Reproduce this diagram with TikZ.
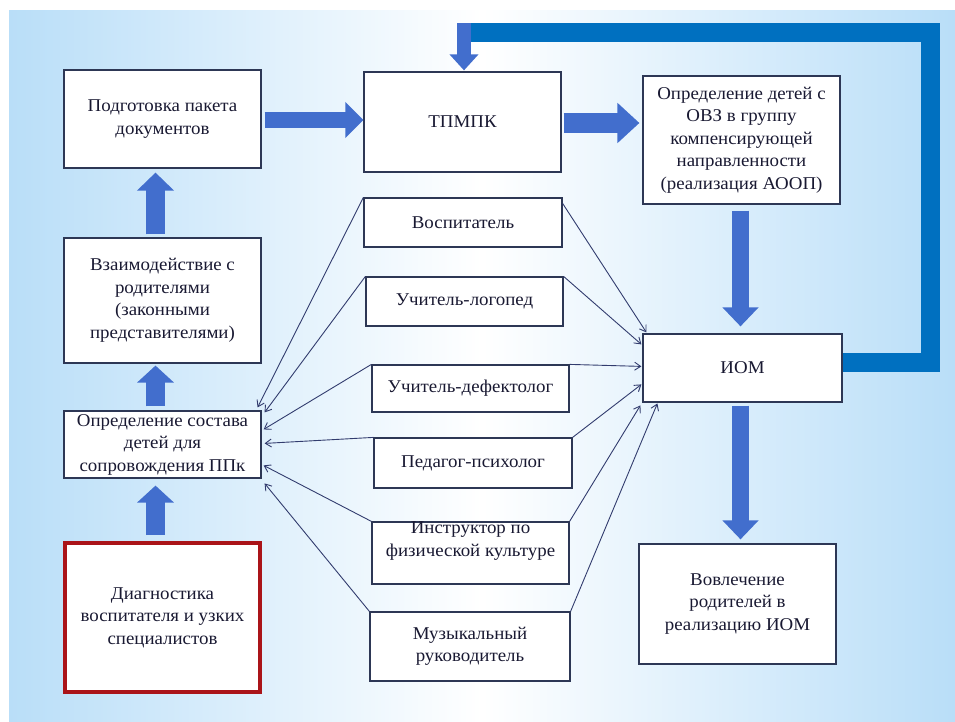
\documentclass[tikz,border=0pt]{standalone}
\usepackage{fontspec}
\setmainfont{Liberation Serif}[FakeStretch=1.05]
\usetikzlibrary{arrows.meta,calc}
\definecolor{bgblue}{RGB}{185,222,248}
\definecolor{boxline}{RGB}{45,55,85}
\definecolor{txt}{RGB}{25,25,50}
\definecolor{arrowblue}{RGB}{66,110,205}
\definecolor{loopblue}{RGB}{0,112,192}
\definecolor{thinline}{RGB}{50,60,110}
\definecolor{diagred}{RGB}{170,20,25}
\begin{document}
\begin{tikzpicture}[x=1pt,y=-1pt,
  box/.style={draw=boxline, line width=1.2pt, fill=white, inner sep=0pt, align=center,
    font=\fontsize{18}{22.5}\selectfont, text=txt},
  plaintext/.style={inner sep=0pt, align=center, font=\fontsize{18}{22.5}\selectfont, text=txt},
  bigarrow/.style={draw=arrowblue, line width=17pt, -{Triangle[length=18pt,width=35pt]}},
  loopline/.style={draw=loopblue, line width=19pt, line join=miter},
  thinarrow/.style={draw=thinline, line width=0.9pt, -{Straight Barb[length=6pt,width=8pt]}}
]
\useasboundingbox (0,0) rectangle (955,722);
\fill[white] (0,0) rectangle (955,722);
\shade[left color=bgblue, right color=bgblue, middle color=white] (9,11) rectangle (955,722);

% boxes
\node[box, minimum width=197, minimum height=98] (podg) at (162.5,119) {Подготовка пакета\\документов};
\node[box, minimum width=197, minimum height=100] (tpmpk) at (462.5,122) {ТПМПК};
\node[box, minimum width=197, minimum height=128] (ovz) at (741.5,140) {Определение детей с\\ОВЗ в группу\\компенсирующей\\направленности\\(реализация АООП)};
\node[box, minimum width=198, minimum height=49] (vosp) at (463,222.5) {Воспитатель};
\node[box, minimum width=197, minimum height=49] (log) at (464.5,301.5) {Учитель-логопед};
\node[box, minimum width=197, minimum height=125] (vzaim) at (162.5,300.5) {Взаимодействие с\\родителями\\(законными\\представителями)};
\node[box, minimum width=197, minimum height=67] (sost) at (162.5,444.5) {Определение состава\\детей для\\сопровождения ППк};
\node[box, draw=diagred, line width=4pt, minimum width=195, minimum height=149] (diag) at (162.5,617.5) {Диагностика\\воспитателя и узких\\специалистов};
\node[box, minimum width=197, minimum height=47] (def) at (470.5,388.5) {Учитель-дефектолог};
\node[box, minimum width=198, minimum height=50] (psych) at (473,463) {Педагог-психолог};
\node[box, minimum width=197, minimum height=62] (instr) at (470.5,553) {};
\node[plaintext] (instrtxt) at (470.5,541) {Инструктор по\\физической культуре};
\node[box, minimum width=200, minimum height=69] (muz) at (470,646.5) {Музыкальный\\руководитель};
\node[box, minimum width=199, minimum height=68] (iom) at (742.5,368) {ИОМ};
\node[box, minimum width=197, minimum height=120] (vovl) at (737.5,604) {Вовлечение\\родителей в\\реализацию ИОМ};

% feedback loop
\coordinate (lr) at (930,362.5);
\coordinate (lt) at (930,33);
\coordinate (ll) at (471,33);
\draw[loopline] ($(iom.east)+(0,-5.5)$) -- (lr) -- (lt) -- (ll);
\draw[bigarrow, line width=14pt, -{Triangle[length=16pt,width=28pt]}] (464,23.5) -- ($(tpmpk.north)+(1.5,-1)$);

% block arrows
\draw[bigarrow, line width=16pt] ($(podg.east)+(3,1)$) -- ($(podg.east -| tpmpk.west)+(0,1)$);
\draw[bigarrow, line width=20pt, -{Triangle[length=22pt,width=39pt]}] ($(tpmpk.east)+(2,1)$) -- ($(tpmpk.east -| ovz.west)+(-3,1)$);
\draw[bigarrow, -{Triangle[length=19pt,width=35pt]}] ($(ovz.south)+(-1,6)$) -- ($(ovz.south |- iom.north)+(-1,-7)$);
\draw[bigarrow, -{Triangle[length=19pt,width=35pt]}] ($(iom.south)+(-2,3)$) -- ($(iom.south |- vovl.north)+(-2,-4)$);
\draw[bigarrow, line width=19pt, -{Triangle[length=18pt,width=36pt]}] ($(vzaim.north)+(-7,-3)$) -- ($(vzaim.north |- podg.south)+(-7,4)$);
\draw[bigarrow, line width=19pt, -{Triangle[length=17pt,width=36pt]}] ($(sost.north)+(-7,-4)$) -- ($(sost.north |- vzaim.south)+(-7,2)$);
\draw[bigarrow, line width=19pt, -{Triangle[length=17pt,width=36pt]}] ($(diag.north)+(-7,-6)$) -- ($(diag.north |- sost.south)+(-7,7)$);

% thin arrows to sost
\draw[thinarrow] (vosp.north west) -- ($(sost.north east)+(-4,-3)$);
\draw[thinarrow] (log.north west) -- ($(sost.north east)+(3,2)$);
\draw[thinarrow] (def.north west) -- ($(sost.north east)+(2,19)$);
\draw[thinarrow] (psych.north west) -- ($(sost.north east)+(3,33)$);
\draw[thinarrow] (instr.north west) -- ($(sost.north east)+(2,55)$);
\draw[thinarrow] (muz.north west) -- ($(sost.north east)+(3,73)$);

% thin arrows to iom
\draw[thinarrow] ($(vosp.north east)+(0,6)$) -- ($(iom.north west)+(4,-1)$);
\draw[thinarrow] (log.north east) -- ($(iom.north west)+(-1,11)$);
\draw[thinarrow] (def.north east) -- ($(iom.north west)+(-1,33)$);
\draw[thinarrow] (psych.north east) -- ($(iom.north west)+(-1,51)$);
\draw[thinarrow] (instr.north east) -- ($(iom.north west)+(-2,72)$);
\draw[thinarrow] (muz.north east) -- ($(iom.north west)+(15,70)$);
\end{tikzpicture}
\end{document}
